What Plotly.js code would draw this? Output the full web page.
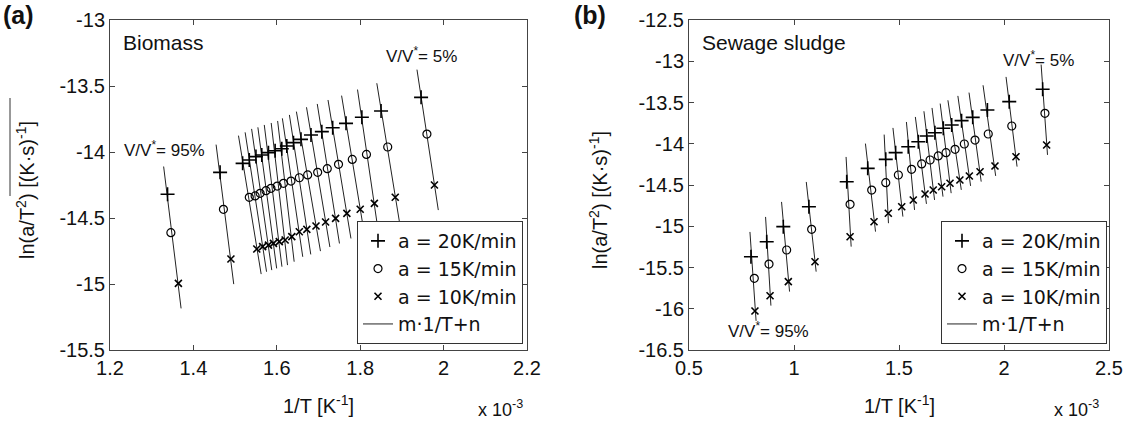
<!DOCTYPE html>
<html>
<head>
<meta charset="utf-8">
<script src="https://cdn.plot.ly/plotly-3.0.1.min.js"></script>
<style>html,body{margin:0;padding:0;background:#fff}#chart{width:1130px;height:430px}</style>
</head>
<body>
<div id="chart"></div>
<script>
// ---------- Panel (a): Biomass, conversion levels 5% ... 95% ----------
const biomassX20 = [1.946,1.850,1.804,1.766,1.734,1.708,1.682,1.658,1.640,1.624,1.612,1.596,1.580,1.564,1.550,1.534,1.518,1.464,1.338];
const biomassY20 = [-13.586,-13.689,-13.737,-13.783,-13.816,-13.846,-13.871,-13.904,-13.929,-13.955,-13.975,-13.990,-14.005,-14.023,-14.035,-14.061,-14.086,-14.154,-14.320];
const biomassX15 = [1.960,1.866,1.815,1.781,1.748,1.721,1.698,1.674,1.654,1.634,1.616,1.601,1.586,1.574,1.560,1.548,1.534,1.472,1.346];
const biomassY15 = [-13.864,-13.962,-14.018,-14.056,-14.093,-14.126,-14.154,-14.174,-14.195,-14.220,-14.237,-14.258,-14.275,-14.293,-14.313,-14.333,-14.343,-14.434,-14.611];
const biomassX10 = [1.978,1.884,1.834,1.800,1.768,1.741,1.717,1.694,1.672,1.654,1.636,1.620,1.606,1.592,1.580,1.566,1.552,1.490,1.364];
const biomassY10 = [-14.250,-14.343,-14.389,-14.434,-14.465,-14.503,-14.530,-14.561,-14.586,-14.604,-14.641,-14.667,-14.679,-14.692,-14.705,-14.717,-14.735,-14.811,-14.995];

// ---------- Panel (b): Sewage sludge, conversion levels 5% ... 95% ----------
const sludgeX20 = [2.184,2.025,1.921,1.851,1.798,1.751,1.711,1.671,1.632,1.592,1.544,1.484,1.437,1.351,1.251,1.071,0.949,0.870,0.795];
const sludgeY20 = [-13.340,-13.490,-13.591,-13.680,-13.720,-13.773,-13.813,-13.866,-13.906,-13.975,-14.036,-14.108,-14.189,-14.298,-14.460,-14.763,-15.005,-15.187,-15.369];
const sludgeX15 = [2.195,2.037,1.925,1.862,1.811,1.767,1.724,1.687,1.648,1.608,1.560,1.497,1.437,1.370,1.267,1.084,0.965,0.881,0.811];
const sludgeY15 = [-13.631,-13.785,-13.882,-13.955,-14.003,-14.067,-14.108,-14.148,-14.197,-14.245,-14.310,-14.379,-14.472,-14.561,-14.734,-15.037,-15.288,-15.458,-15.631];
const sludgeX10 = [2.203,2.057,1.957,1.886,1.835,1.790,1.743,1.703,1.663,1.624,1.568,1.513,1.449,1.381,1.267,1.100,0.973,0.886,0.814];
const sludgeY10 = [-14.015,-14.157,-14.270,-14.339,-14.391,-14.439,-14.479,-14.521,-14.561,-14.609,-14.682,-14.763,-14.843,-14.945,-15.127,-15.430,-15.672,-15.842,-16.027];

// ---------- Tick labels ----------
const xTicksA = [1.2,1.4,1.6,1.8,2.0,2.2];
const xTickTextA = ["1.2","1.4","1.6","1.8","2","2.2"];
const yTicksA = [-13,-13.5,-14,-14.5,-15,-15.5];
const yTickTextA = ["-13","-13.5","-14","-14.5","-15","-15.5"];
const xTicksB = [0.5,1,1.5,2,2.5];
const xTickTextB = ["0.5","1","1.5","2","2.5"];
const yTicksB = [-12.5,-13,-13.5,-14,-14.5,-15,-15.5,-16,-16.5];
const yTickTextB = ["-12.5","-13","-13.5","-14","-14.5","-15","-15.5","-16","-16.5"];

const legendNames = ["a = 20K/min","a = 15K/min","a = 10K/min","m\u00b71/T+n"];

// Fit x = a*y + b for each conversion level through its three points, extend beyond the points
function fitLines(x20,y20,x15,y15,x10,y10,extTop,extBot){
  const lx=[], ly=[];
  for(let i=0;i<x20.length;i++){
    const xs=[x20[i],x15[i],x10[i]], ys=[y20[i],y15[i],y10[i]];
    const my=(ys[0]+ys[1]+ys[2])/3, mx=(xs[0]+xs[1]+xs[2])/3;
    let sxy=0, syy=0;
    for(let k=0;k<3;k++){ sxy+=(ys[k]-my)*(xs[k]-mx); syy+=(ys[k]-my)*(ys[k]-my); }
    const a=sxy/syy, b=mx-a*my;
    const yt=y20[i]+extTop, yb=y10[i]-extBot;
    lx.push(a*yt+b, a*yb+b, null); ly.push(yt, yb, null);
  }
  return {lx, ly};
}

const FONT = "Liberation Sans, Arial, sans-serif";
const lineA = fitLines(biomassX20,biomassY20,biomassX15,biomassY15,biomassX10,biomassY10,0.21,0.19);
const lineB = fitLines(sludgeX20,sludgeY20,sludgeX15,sludgeY15,sludgeX10,sludgeY10,0.3,0.12);

function panelTraces(xa, ya, leg, L, X20,Y20,X15,Y15,X10,Y10){
  return [
    {x:L.lx, y:L.ly, xaxis:xa, yaxis:ya, legend:leg, mode:'lines', name:legendNames[3], legendrank:4,
     line:{color:'#222', width:1}, hoverinfo:'skip'},
    {x:X20, y:Y20, xaxis:xa, yaxis:ya, legend:leg, mode:'markers', name:legendNames[0], legendrank:1,
     marker:{symbol:'cross-thin', size:10, color:'#000', line:{color:'#000', width:1.6}}},
    {x:X15, y:Y15, xaxis:xa, yaxis:ya, legend:leg, mode:'markers', name:legendNames[1], legendrank:2,
     marker:{symbol:'circle-open', size:8, color:'#000', line:{color:'#000', width:1.2}}},
    {x:X10, y:Y10, xaxis:xa, yaxis:ya, legend:leg, mode:'markers', name:legendNames[2], legendrank:3,
     marker:{symbol:'x-thin', size:7, color:'#000', line:{color:'#000', width:1.6}}}
  ];
}

const data = [
  ...panelTraces('x','y','legend',lineA,biomassX20,biomassY20,biomassX15,biomassY15,biomassX10,biomassY10),
  ...panelTraces('x2','y2','legend2',lineB,sludgeX20,sludgeY20,sludgeX15,sludgeY15,sludgeX10,sludgeY10)
];

const W=1130, H=430;
const px = v => v/W, py = v => (H-v)/H;

const axisCommon = {
  showline:true, linecolor:'#444', linewidth:1, mirror:'ticks', ticks:'inside', ticklen:5, tickcolor:'#444',
  showgrid:false, zeroline:false, tickfont:{family:FONT, size:20, color:'#111'}, fixedrange:true
};

const legendCommon = {
  bgcolor:'#fff', bordercolor:'#333', borderwidth:1, font:{family:"DejaVu Sans, sans-serif", size:19, color:'#111'},
  xanchor:'right', yanchor:'bottom', traceorder:'normal', itemwidth:30, tracegroupgap:0
};

const annFont = (s)=>({family:FONT, size:s, color:'#111'});

const layout = {
  width:W, height:H, margin:{l:0,r:0,t:0,b:0}, paper_bgcolor:'#fff', plot_bgcolor:'#fff',
  showlegend:true,
  xaxis: Object.assign({}, axisCommon, {domain:[px(110),px(527)], range:[1.2,2.2], tickvals:xTicksA, ticktext:xTickTextA, anchor:'y'}),
  yaxis: Object.assign({}, axisCommon, {domain:[py(350),py(20)], range:[-15.5,-13], tickvals:yTicksA, ticktext:yTickTextA, anchor:'x'}),
  xaxis2: Object.assign({}, axisCommon, {domain:[px(689),px(1109)], range:[0.5,2.5], tickvals:xTicksB, ticktext:xTickTextB, anchor:'y2'}),
  yaxis2: Object.assign({}, axisCommon, {domain:[py(350),py(20)], range:[-16.5,-12.5], tickvals:yTicksB, ticktext:yTickTextB, anchor:'x2'}),
  legend: Object.assign({}, legendCommon, {x:px(523), y:py(344)}),
  legend2: Object.assign({}, legendCommon, {x:px(1107), y:py(344)}),
  annotations:[
    {text:'<b>(a)</b>', xref:'paper', yref:'paper', x:px(1), y:py(15), xanchor:'left', yanchor:'middle', showarrow:false, font:annFont(25)},
    {text:'<b>(b)</b>', xref:'paper', yref:'paper', x:px(572), y:py(15), xanchor:'left', yanchor:'middle', showarrow:false, font:annFont(25)},
    {text:'Biomass', xref:'paper', yref:'paper', x:px(121), y:py(43), xanchor:'left', yanchor:'middle', showarrow:false, font:annFont(21)},
    {text:'Sewage sludge', xref:'paper', yref:'paper', x:px(700), y:py(43), xanchor:'left', yanchor:'middle', showarrow:false, font:annFont(21)},
    {text:'V/V<sup>*</sup>= 5%', xref:'paper', yref:'paper', x:px(384), y:py(55), xanchor:'left', yanchor:'middle', showarrow:false, font:annFont(17)},
    {text:'V/V<sup>*</sup>= 95%', xref:'paper', yref:'paper', x:px(122), y:py(149), xanchor:'left', yanchor:'middle', showarrow:false, font:annFont(17)},
    {text:'V/V<sup>*</sup>= 5%', xref:'paper', yref:'paper', x:px(1001), y:py(59), xanchor:'left', yanchor:'middle', showarrow:false, font:annFont(17)},
    {text:'V/V<sup>*</sup>= 95%', xref:'paper', yref:'paper', x:px(726), y:py(330), xanchor:'left', yanchor:'middle', showarrow:false, font:annFont(17)},
    {text:'1/T [K<sup>-1</sup>]', xref:'paper', yref:'paper', x:px(318), y:py(404), xanchor:'center', yanchor:'middle', showarrow:false, font:annFont(20)},
    {text:'1/T [K<sup>-1</sup>]', xref:'paper', yref:'paper', x:px(899), y:py(404), xanchor:'center', yanchor:'middle', showarrow:false, font:annFont(20)},
    {text:'x 10<sup>-3</sup>', xref:'paper', yref:'paper', x:px(500), y:py(408), xanchor:'center', yanchor:'middle', showarrow:false, font:annFont(18)},
    {text:'x 10<sup>-3</sup>', xref:'paper', yref:'paper', x:px(1076), y:py(408), xanchor:'center', yanchor:'middle', showarrow:false, font:annFont(18)},
    {text:'ln(a/T<sup>2</sup>) [(K\u00b7s)<sup>-1</sup>]', xref:'paper', yref:'paper', x:px(25), y:py(190), xanchor:'center', yanchor:'middle', textangle:-90, showarrow:false, font:annFont(20)},
    {text:'ln(a/T<sup>2</sup>) [(K\u00b7s)<sup>-1</sup>]', xref:'paper', yref:'paper', x:px(598), y:py(200), xanchor:'center', yanchor:'middle', textangle:-90, showarrow:false, font:annFont(20)}
  ],
  shapes:[
    {type:'line', xref:'paper', yref:'paper', x0:px(10), x1:px(10), y0:py(98), y1:py(196), line:{color:'#333', width:1}}
  ]
};

Plotly.newPlot('chart', data, layout, {staticPlot:true, displayModeBar:false});
</script>
</body>
</html>
